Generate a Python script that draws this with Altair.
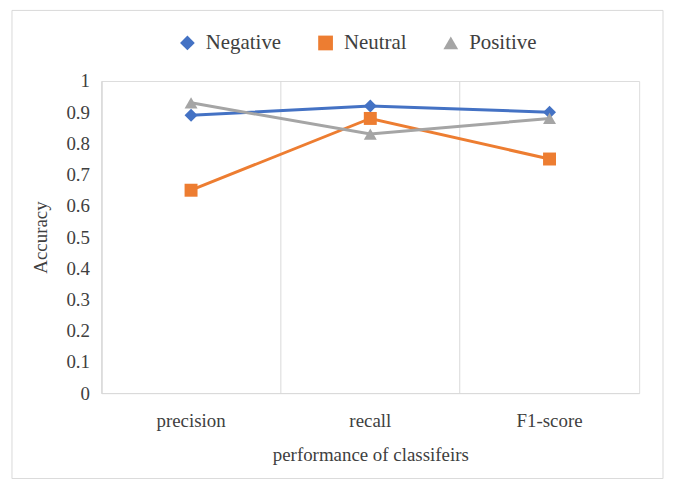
import altair as alt
import pandas as pd

metrics = ["precision", "recall", "F1-score"]
series = ["Negative", "Neutral", "Positive"]
negative = [0.89, 0.92, 0.90]
neutral = [0.65, 0.88, 0.75]
positive = [0.93, 0.83, 0.88]
y_ticks = [0, 0.1, 0.2, 0.3, 0.4, 0.5, 0.6, 0.7, 0.8, 0.9, 1]
colors = ["#4472C4", "#ED7D31", "#A5A5A5"]
shapes = ["diamond", "square", "triangle-up"]

rows = []
for name, vals in zip(series, [negative, neutral, positive]):
    for m, v in zip(metrics, vals):
        rows.append({"metric": m, "series": name, "value": v})
df = pd.DataFrame(rows)

font = "Liberation Serif"
txt = "#404040"

x_enc = alt.X("metric:N", sort=metrics,
              scale=alt.Scale(type="band", paddingInner=0, paddingOuter=0),
              axis=alt.Axis(title="performance of classifeirs", bandPosition=0,
                            grid=True, gridColor="#d9d9d9", ticks=False,
                            domainColor="#d9d9d9", labelAngle=0,
                            labelPadding=19, titlePadding=15,
                            labelFont=font, titleFont=font, labelFontSize=19,
                            titleFontSize=19, labelColor=txt,
                            titleColor=txt, titleFontWeight="normal"))
y_enc = alt.Y("value:Q", scale=alt.Scale(domain=[0, 1], nice=False),
              axis=alt.Axis(title="Accuracy", values=y_ticks, format=".1~f",
                            grid=False, ticks=False, domainColor="#d9d9d9",
                            labelPadding=12, titlePadding=16,
                            labelFont=font, titleFont=font, labelFontSize=19,
                            titleFontSize=19, labelColor=txt,
                            titleColor=txt, titleFontWeight="normal"))
legend = alt.Legend(title=None, orient="none", direction="horizontal",
                    legendX=76, legendY=-49,
                    labelFont=font, labelFontSize=21, labelOffset=8,
                    labelColor=txt, symbolSize=220,
                    columnPadding=34, symbolStrokeWidth=0)
color_enc = alt.Color("series:N", sort=series,
                      scale=alt.Scale(domain=series, range=colors), legend=legend)
shape_enc = alt.Shape("series:N", sort=series,
                      scale=alt.Scale(domain=series, range=shapes), legend=legend)

frame = alt.Chart(pd.DataFrame({"a": [0]})).mark_rect(
    fill=None, stroke="#d9d9d9", strokeWidth=1
).encode(x=alt.value(-90), x2=alt.value(565), y=alt.value(-71), y2=alt.value(400))

lines = alt.Chart(df).mark_line(strokeWidth=3).encode(
    x=x_enc, y=y_enc, color=color_enc, detail="series:N")
points = alt.Chart(df).mark_point(filled=True, size=170, opacity=1).encode(
    x=x_enc, y=y_enc, color=color_enc, shape=shape_enc)

chart = alt.layer(frame, lines, points).properties(
    width=541, height=314,
    autosize=alt.AutoSizeParams(type="none"),
    padding={"left": 94, "top": 72, "right": 26, "bottom": 85},
).configure_view(stroke=None).configure(background="white")

chart.save("out.html", embed_options={"renderer": "svg", "actions": False})
